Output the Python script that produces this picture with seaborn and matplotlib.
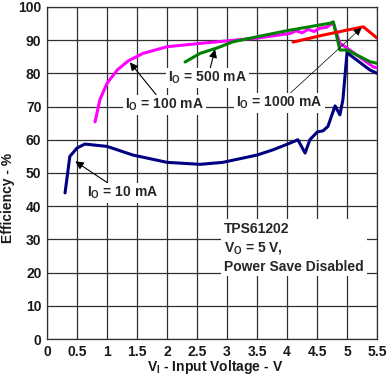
import matplotlib
matplotlib.use("Agg")
import matplotlib.pyplot as plt
import seaborn as sns
import pandas as pd

# ---- data ----
v_10ma = [0.30, 0.38, 0.50, 0.63, 1.00, 1.43, 2.00, 2.55, 2.93, 3.50, 3.77, 4.05, 4.18, 4.30, 4.38, 4.50, 4.60, 4.68, 4.80, 4.88, 4.93, 5.00, 5.05, 5.38, 5.50]
e_10ma = [44.0, 55.0, 57.5, 58.7, 58.0, 55.4, 53.2, 52.6, 53.2, 55.4, 57.0, 59.0, 60.0, 56.0, 60.0, 62.3, 62.7, 64.0, 70.2, 67.5, 72.0, 86.5, 85.5, 81.0, 80.0]

v_100ma = [0.80, 0.88, 1.00, 1.17, 1.35, 1.60, 2.00, 2.55, 3.50, 4.05, 4.15, 4.25, 4.35, 4.45, 4.55, 4.65, 4.77, 4.88, 5.00, 5.43, 5.50]
e_100ma = [65.4, 72.0, 77.0, 81.0, 83.7, 86.0, 88.0, 89.0, 90.6, 92.0, 92.8, 92.2, 93.2, 92.6, 93.6, 93.8, 95.2, 89.0, 87.6, 82.0, 81.6]

v_500ma = [2.30, 2.55, 2.83, 3.10, 3.50, 4.05, 4.72, 4.77, 4.88, 5.00, 5.38, 5.50]
e_500ma = [83.4, 86.0, 87.6, 89.5, 91.0, 93.0, 95.1, 95.5, 87.0, 87.0, 83.5, 83.0]

v_1000ma = [4.10, 4.60, 5.00, 5.27, 5.50]
e_1000ma = [89.4, 91.5, 93.0, 94.0, 90.6]

labels = ["10 mA", "100 mA", "500 mA", "1000 mA"]
colors = ["#000080", "#ff00ff", "#008000", "#ff0000"]

xticks = [0, 0.5, 1, 1.5, 2, 2.5, 3, 3.5, 4, 4.5, 5, 5.5]
xticklabels = ["0", "0.5", "1", "1.5", "2", "2.5", "3", "3.5", "4", "4.5", "5", "5.5"]
yticks = [0, 10, 20, 30, 40, 50, 60, 70, 80, 90, 100]

# ---- style ----
sns.set_theme(style="white")
plt.rcParams['font.family'] = ['Liberation Sans', 'DejaVu Sans']
plt.rcParams['font.weight'] = 'bold'
plt.rcParams['mathtext.fontset'] = 'custom'
plt.rcParams['mathtext.rm'] = 'Liberation Sans:bold'
plt.rcParams['mathtext.bf'] = 'Liberation Sans:bold'
plt.rcParams['mathtext.it'] = 'Liberation Sans:bold'

fig = plt.figure(figsize=(3.92, 3.81), dpi=100)
ax = fig.add_axes([0.120, 0.110, 0.842, 0.872])

frames = []
for v, e, lab in [(v_10ma, e_10ma, labels[0]), (v_100ma, e_100ma, labels[1]),
                  (v_500ma, e_500ma, labels[2]), (v_1000ma, e_1000ma, labels[3])]:
    frames.append(pd.DataFrame({"V": v, "Eff": e, "Io": lab}))
df = pd.concat(frames, ignore_index=True)

sns.lineplot(data=df, x="V", y="Eff", hue="Io", hue_order=labels,
             palette=colors, sort=False, estimator=None, linewidth=2.2,
             legend=False, ax=ax, zorder=3)

ax.set_xlim(0, 5.5)
ax.set_ylim(0, 100)
ax.set_xticks(xticks)
ax.set_xticklabels(xticklabels)
ax.set_yticks(yticks)
ax.grid(True, color="#303030", linewidth=0.9)
ax.set_axisbelow(True)
for s in ax.spines.values():
    s.set_color("#303030")
    s.set_linewidth(0.9)
ax.tick_params(axis='both', length=0, labelsize=10, pad=4)
for t in ax.get_xticklabels() + ax.get_yticklabels():
    t.set_fontweight('bold')
    t.set_color('#1a1a1a')

ax.set_xlabel(r"$\mathrm{V_I}$ - Input Voltage - V", fontsize=10, fontweight='bold', color='#1a1a1a')
ax.xaxis.set_label_coords(0.51, -0.057)
ax.set_ylabel("Efficiency - %", fontsize=10, fontweight='bold', color='#1a1a1a')
ax.yaxis.set_label_coords(-0.098, 0.425)

box = dict(facecolor='white', edgecolor='none', pad=1.5)
arrow = dict(arrowstyle='-|>', color='black', lw=0.8, mutation_scale=12, shrinkA=0, shrinkB=0)

ax.annotate(r"$\mathrm{I_O}$ = 500 mA", xy=(2.8, 87.2), xytext=(2.02, 78.6),
            fontsize=10, fontweight='bold', ha='left', va='center', bbox=box,
            arrowprops=arrow, zorder=5)
ax.annotate(r"$\mathrm{I_O}$ = 100 mA", xy=(1.38, 83.3), xytext=(1.30, 70.5),
            fontsize=10, fontweight='bold', ha='left', va='center', bbox=box,
            arrowprops=arrow, zorder=5)
ax.annotate(r"$\mathrm{I_O}$ = 1000 mA", xy=(5.24, 93.7), xytext=(3.15, 71.0),
            fontsize=10, fontweight='bold', ha='left', va='center', bbox=box,
            arrowprops=dict(arrowstyle='-|>', color='black', lw=0.5, mutation_scale=12, shrinkA=0, shrinkB=0),
            zorder=5)
ax.annotate(r"$\mathrm{I_O}$ = 10 mA", xy=(0.47, 53.5), xytext=(0.67, 44.0),
            fontsize=10, fontweight='bold', ha='left', va='center', bbox=box,
            arrowprops=arrow, zorder=5)

ax.text(2.95, 27.5, "TPS61202\n" + r"$\mathrm{V_O}$ = 5 V," + "\nPower Save Disabled",
        fontsize=10, fontweight='bold', ha='left', va='center', linespacing=1.35,
        bbox=dict(facecolor='white', edgecolor='none', pad=2), zorder=5)

fig.savefig("out.png", dpi=100)
